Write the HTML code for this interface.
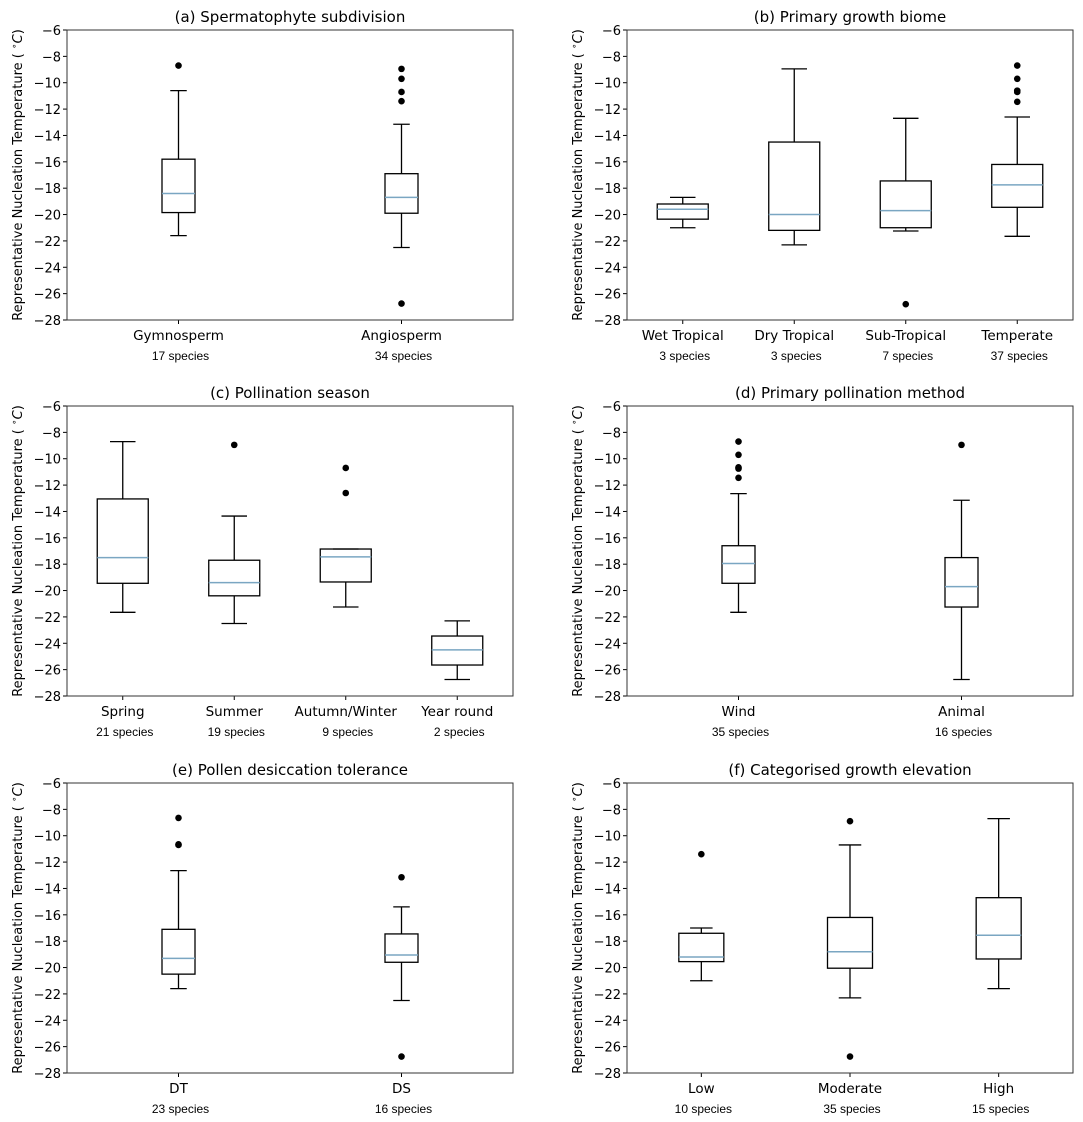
<!DOCTYPE html>
<html><head><meta charset="utf-8"><style>
body{margin:0;background:#fff}
svg{display:block;font-family:"DejaVu Sans","Liberation Sans",sans-serif}
</style></head><body>
<svg id="fig" width="1083" height="1122" viewBox="0 0 1083 1122"></svg>
<script>
const titles=["(a) Spermatophyte subdivision","(b) Primary growth biome","(c) Pollination season","(d) Primary pollination method","(e) Pollen desiccation tolerance","(f) Categorised growth elevation"];
const categories=[["Gymnosperm","Angiosperm"],["Wet Tropical","Dry Tropical","Sub-Tropical","Temperate"],["Spring","Summer","Autumn/Winter","Year round"],["Wind","Animal"],["DT","DS"],["Low","Moderate","High"]];
const speciesCounts=[[17,34],[3,3,7,37],[21,19,9,2],[35,16],[23,16],[10,35,15]];
// [whiskerLow, Q1, median, Q3, whiskerHigh]
const boxStats=[
 [[-21.6,-19.85,-18.4,-15.8,-10.6],[-22.5,-19.9,-18.7,-16.9,-13.15]],
 [[-21.0,-20.35,-19.6,-19.2,-18.7],[-22.3,-21.2,-20.0,-14.5,-8.95],[-21.25,-21.0,-19.7,-17.45,-12.7],[-21.65,-19.45,-17.75,-16.2,-12.6]],
 [[-21.65,-19.45,-17.5,-13.05,-8.7],[-22.5,-20.4,-19.4,-17.7,-14.35],[-21.25,-19.35,-17.45,-16.85,-16.85],[-26.75,-25.65,-24.5,-23.45,-22.3]],
 [[-21.65,-19.45,-17.95,-16.6,-12.65],[-26.75,-21.25,-19.7,-17.5,-13.15]],
 [[-21.6,-20.5,-19.3,-17.1,-12.65],[-22.5,-19.6,-19.05,-17.45,-15.4]],
 [[-21.0,-19.55,-19.2,-17.4,-17.0],[-22.3,-20.05,-18.8,-16.2,-10.7],[-21.6,-19.35,-17.55,-14.7,-8.7]]
];
const outliers=[
 [[-8.7],[-8.95,-9.7,-10.7,-11.4,-26.75]],
 [[],[],[-26.8],[-8.7,-9.7,-10.6,-10.7,-11.45]],
 [[],[-8.95],[-10.7,-12.6],[]],
 [[-8.7,-9.7,-10.65,-10.75,-11.45],[-8.95]],
 [[-8.65,-10.65,-10.7],[-13.15,-26.75]],
 [[-11.4],[-8.9,-26.75],[]]
];
const yTicks=[-6,-8,-10,-12,-14,-16,-18,-20,-22,-24,-26,-28];
const yMin=-28,yMax=-6;

const NS="http://www.w3.org/2000/svg";
const svg=document.getElementById('fig');
function mk(tag,attrs,parent){const e=document.createElementNS(NS,tag);for(const k in attrs)e.setAttribute(k,attrs[k]);(parent||svg).appendChild(e);return e;}
const lefts=[67,627],rights=[513,1073],tops=[30,406,783],H=290;
const boxW={2:33,3:45,4:51};
for(let p=0;p<6;p++){
  const col=p%2,row=Math.floor(p/2);
  const L=lefts[col],R=rights[col],T=tops[row],B=T+H;
  const g=mk('g',{});
  
  
  const y=v=>T+(yMax-v)/(yMax-yMin)*H;
  const n=categories[p].length;
  const x=i=>L+(R-L)*(i+0.5)/n;
  const t=mk('text',{x:(L+R)/2,y:T-8,'text-anchor':'middle','font-size':15,fill:'#000'},g);
  t.textContent=titles[p];
  
  
  const yl=mk('text',{x:0,y:0,transform:`translate(${L-45},${T+H/2}) rotate(-90)`,'text-anchor':'middle','font-size':13,fill:'#000'},g);
  yl.innerHTML='Representative Nucleation Temperature ( <tspan font-size="9" dy="-5">∘</tspan><tspan dy="5" font-style="italic">C</tspan>)';
  
  
  yTicks.forEach(v=>{
    mk('line',{x1:L-4,x2:L,y1:y(v),y2:y(v),stroke:'#000','stroke-width':1},g);
    const tt=mk('text',{x:L-6,y:y(v)+5,'text-anchor':'end','font-size':13,fill:'#000'},g);
    tt.textContent=String(v).replace('-','−');
    
    
  });
  const bw=boxW[n];
  for(let i=0;i<n;i++){
    const cx=x(i),s=boxStats[p][i];
    mk('line',{x1:cx,x2:cx,y1:B,y2:B+4,stroke:'#000'},g);
    const cl=mk('text',{x:cx,y:B+20,'text-anchor':'middle','font-size':13.5,fill:'#000'},g);
    cl.textContent=categories[p][i];
    
    
    const sl=mk('text',{x:cx+2,y:B+40,'text-anchor':'middle','font-size':12,fill:'#000','font-family':'Liberation Sans, sans-serif'},g);
    sl.textContent=speciesCounts[p][i]+' species';
    
    
    const bg=mk('g',{},g);
    
    
    const cap=bw/2;
    mk('line',{x1:cx,x2:cx,y1:y(s[0]),y2:y(s[1]),stroke:'#000','stroke-width':1.3},bg);
    mk('line',{x1:cx,x2:cx,y1:y(s[3]),y2:y(s[4]),stroke:'#000','stroke-width':1.3},bg);
    mk('line',{x1:cx-cap/2,x2:cx+cap/2,y1:y(s[0]),y2:y(s[0]),stroke:'#000','stroke-width':1.3},bg);
    mk('line',{x1:cx-cap/2,x2:cx+cap/2,y1:y(s[4]),y2:y(s[4]),stroke:'#000','stroke-width':1.3},bg);
    mk('rect',{x:cx-bw/2,y:y(s[3]),width:bw,height:y(s[1])-y(s[3]),fill:'none',stroke:'#000','stroke-width':1.3},bg);
    mk('line',{x1:cx-bw/2,x2:cx+bw/2,y1:y(s[2]),y2:y(s[2]),stroke:'#7aa6c2','stroke-width':1.5},bg);
    outliers[p][i].forEach(v=>{
      const c=mk('circle',{cx:cx,cy:y(v),r:3.3,fill:'#000'},bg);
      
      
    });
  }
  const fr=mk('rect',{x:L,y:T,width:R-L,height:H,fill:'none',stroke:'#333','stroke-width':1},g);
  
  
}
</script>
</body></html>
